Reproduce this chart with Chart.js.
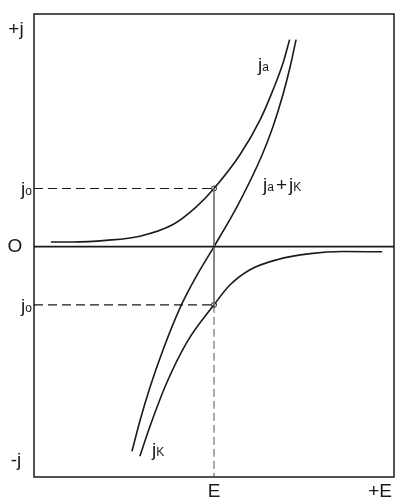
<!DOCTYPE html>
<html>
<head>
<meta charset="utf-8">
<script src="https://cdn.jsdelivr.net/npm/chart.js@4/dist/chart.umd.min.js"></script>
<style>
  html, body { margin: 0; padding: 0; background: #fff; }
</style>
</head>
<body>
<canvas id="chart" width="409" height="503"></canvas>
<script>
// values (x: potential, 0..10, y: current, -9.9..10)
var E = 5;
var j0 = 2.5;

var jaX = [0.47, 1.08, 2.0, 2.94, 3.86, 4.5, 5.0, 5.72, 6.28, 6.64, 6.92, 7.1];
var jaY = [0.2, 0.2, 0.27, 0.45, 0.95, 1.7, 2.5, 3.95, 5.45, 6.74, 7.9, 8.9];

var jkX = [2.94, 3.22, 3.69, 4.25, 5.0, 5.44, 6.0, 6.75, 7.67, 8.58, 9.67];
var jkY = [-9.01, -7.73, -5.84, -4.1, -2.5, -1.65, -0.99, -0.56, -0.3, -0.21, -0.22];

var sumX = [2.72, 2.94, 3.22, 3.58, 4.06, 4.5, 5.0, 5.67, 6.33, 6.64, 6.92, 7.11, 7.28];
var sumY = [-8.8, -7.5, -6.05, -4.45, -2.62, -1.3, 0, 1.81, 3.92, 5.16, 6.56, 7.7, 8.9];

var xMin = 0, xMax = 10;
var yMin = -9.9, yMax = 10;

function pts(xs, ys) {
    return xs.map(function (x, i) { return { x: x, y: ys[i] }; });
}

var ink = '#1a1a1a';
var big = '19px "Liberation Sans", Arial, sans-serif';
var small = '12px "Liberation Sans", Arial, sans-serif';

function drawSub(ctx, main, sub, x, y, align) {
    ctx.font = big;
    var w1 = ctx.measureText(main).width;
    ctx.font = small;
    var w2 = ctx.measureText(sub).width;
    var left = align === 'right' ? x - w1 - w2 : x;
    ctx.textAlign = 'left';
    ctx.textBaseline = 'alphabetic';
    ctx.font = big;
    ctx.fillText(main, left, y);
    ctx.font = small;
    ctx.fillText(sub, left + w1, y);
    return left + w1 + w2;
}

var frame = {
    id: 'frame',
    beforeDatasetsDraw: function (chart) {
        var ctx = chart.ctx;
        var a = chart.chartArea;
        ctx.save();
        ctx.strokeStyle = ink;
        ctx.lineWidth = 1.5;
        ctx.strokeRect(a.left, a.top, a.right - a.left, a.bottom - a.top);
        ctx.restore();
    },
    afterDraw: function (chart) {
        var ctx = chart.ctx;
        var xs = chart.scales.x, ys = chart.scales.y;
        ctx.save();
        ctx.fillStyle = ink;
        ctx.font = big;
        ctx.textBaseline = 'middle';
        ctx.textAlign = 'center';
        ctx.fillText('+j', 16, 30);
        ctx.fillText('O', 15, ys.getPixelForValue(0));
        ctx.fillText('-j', 16, 461);
        ctx.fillText('E', xs.getPixelForValue(E), 492);
        ctx.textAlign = 'right';
        ctx.fillText('+E', xs.getPixelForValue(xMax) - 2, 492);

        drawSub(ctx, 'j', 'o', 32, ys.getPixelForValue(j0) + 7, 'right');
        drawSub(ctx, 'j', 'o', 32, ys.getPixelForValue(-j0) + 7, 'right');

        drawSub(ctx, 'j', 'a', 258, 71);
        var p = drawSub(ctx, 'j', 'a', 263, 191);
        ctx.font = big;
        ctx.textAlign = 'left';
        ctx.textBaseline = 'alphabetic';
        ctx.fillText('+', p + 2, 191);
        var w = ctx.measureText('+').width;
        drawSub(ctx, 'j', 'K', p + w + 4, 191);
        drawSub(ctx, 'j', 'K', 152, 456);
        ctx.restore();
    }
};

var curve = function (label, data) {
    return {
        label: label,
        data: data,
        showLine: true,
        borderColor: ink,
        borderWidth: 1.6,
        pointRadius: 0,
        cubicInterpolationMode: 'monotone',
        fill: false
    };
};

var guide = function (label, data, dash, width, color) {
    return {
        label: label,
        data: data,
        showLine: true,
        borderColor: color,
        borderWidth: width,
        borderDash: dash,
        pointRadius: 0,
        tension: 0,
        fill: false
    };
};

new Chart(document.getElementById('chart'), {
    type: 'scatter',
    data: {
        datasets: [
            guide('zero', pts([xMin, xMax], [0, 0]), [], 1.6, ink),
            guide('j0', pts([xMin, E], [j0, j0]), [9, 5], 1.2, ink),
            guide('-j0', pts([xMin, E], [-j0, -j0]), [9, 5], 1.2, ink),
            guide('E between', pts([E, E], [j0, -j0]), [], 1, '#777'),
            guide('E below', pts([E, E], [-j0, yMin]), [8, 4], 1, '#555'),
            curve('ja', pts(jaX, jaY)),
            curve('jk', pts(jkX, jkY)),
            curve('ja+jk', pts(sumX, sumY)),
            {
                label: 'j0 points',
                data: pts([E, E], [j0, -j0]),
                pointRadius: 2.5,
                pointBackgroundColor: '#fff',
                pointBorderColor: ink,
                pointBorderWidth: 1
            }
        ]
    },
    options: {
        responsive: false,
        animation: false,
        layout: { padding: { left: 34, right: 15, top: 14, bottom: 26 } },
        plugins: {
            legend: { display: false },
            tooltip: { enabled: false }
        },
        scales: {
            x: { type: 'linear', min: xMin, max: xMax, display: false },
            y: { type: 'linear', min: yMin, max: yMax, display: false }
        }
    },
    plugins: [frame]
});
</script>
</body>
</html>
